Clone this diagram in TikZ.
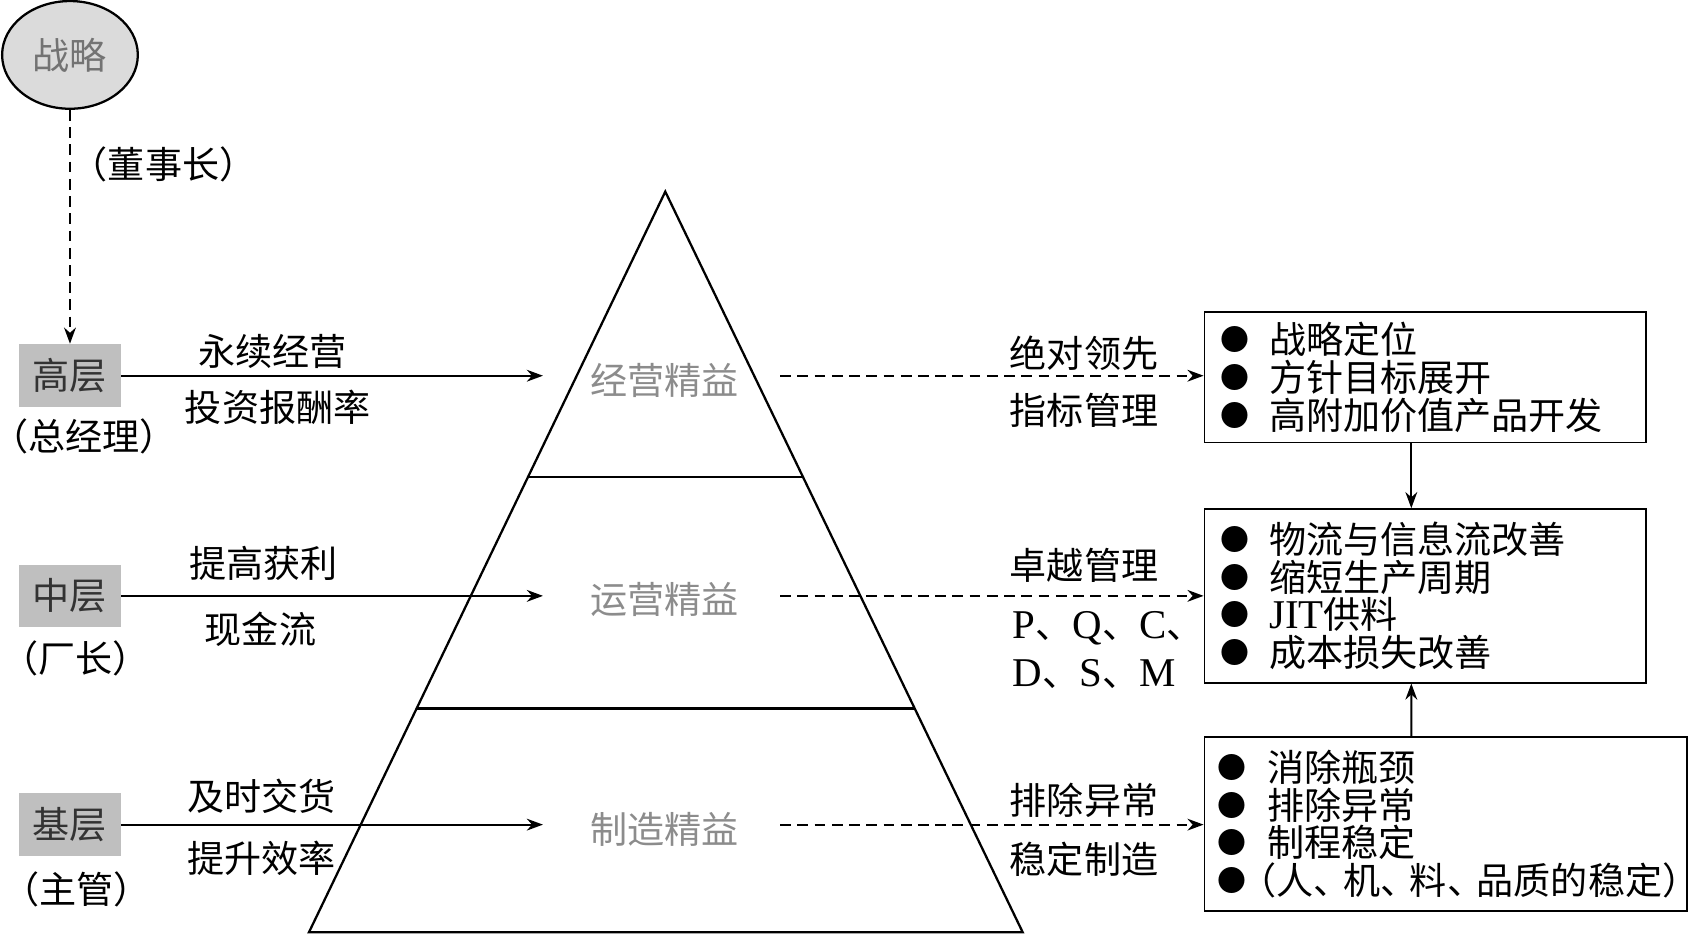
\documentclass[tikz,border=0pt]{standalone}
\usepackage{fontspec}
\setmainfont{Noto Sans CJK SC}
\newfontfamily\halfcjk[RawFeature=+halt]{Noto Sans CJK SC}
\newfontfamily\latinfont{Liberation Serif}
\usetikzlibrary{positioning,arrows.meta,calc,shapes.geometric}
\newcommand\lpa{{\halfcjk （}}
\newcommand\rpa{{\halfcjk ）}}
\newcommand\dun{\makebox[0.8em][l]{、}}
\newcommand\bul{\makebox[0.32cm][c]{\raisebox{0.08em}{\scalebox{0.78}{●}}}\hspace{0.16cm}}
\newcommand\bulw{\makebox[0.435cm][c]{\raisebox{0.08em}{\scalebox{0.78}{●}}}}
\newcommand\lat[1]{{\latinfont\fontsize{10.8}{10}\selectfont #1}}

\begin{document}
\begin{tikzpicture}[
  x=0.01cm, y=-0.01cm,
  >={Stealth[length=1.5mm,width=1.1mm]},
  every node/.style={font=\fontsize{9.8}{10}\selectfont},
  level/.style={fill=black!25, text=black!80, minimum width=0.94cm, minimum height=0.58cm, inner sep=0pt},
  who/.style={inner sep=0pt},
  part/.style={text=black!45, inner sep=0pt},
  listbox/.style={draw, line width=0.5pt, anchor=west, align=left, inner xsep=0.12cm, inner ysep=0pt, font=\fontsize{9.8}{0.35cm}\selectfont},
  arr/.style={->, line width=0.5pt},
  darr/.style={->, line width=0.5pt, dash pattern=on 1mm off 0.6mm}
]
  \useasboundingbox (0,0) rectangle (1568,869);
  % strategy and the three levels
  \node[ellipse, draw, line width=0.6pt, fill=black!14, text=black!55, minimum width=1.26cm, minimum height=1.0cm, inner sep=0pt] (zl) at (65,51) {战略};
  \node[who] at (152,153) {\lpa 董事长\rpa};
  \node[level] (gao) at (65,349) {高层};
  \node[who] at (78,405) {\lpa 总经理\rpa};
  \node[level] (zhong) at (65,553.5) {中层};
  \node[who] at (70,612) {\lpa 厂长\rpa};
  \node[level] (ji) at (65,766) {基层};
  \node[who] at (71,826) {\lpa 主管\rpa};
  \draw[darr] (zl) -- (gao);
  % pyramid
  \coordinate (top) at (618,178);
  \coordinate (bl) at (287,866);
  \coordinate (br) at (950,866);
  \draw[line width=0.6pt] (top) -- (bl) -- (br) -- cycle;
  \draw[line width=0.6pt] ($(top)!0.385!(bl)$) -- ($(top)!0.385!(br)$);
  \draw[line width=0.6pt] ($(top)!0.698!(bl)$) -- ($(top)!0.698!(br)$);
  \node[part] (jy) at (617,353) {经营精益};
  \node[part] (yy) at (617,557) {运营精益};
  \node[part] (zz) at (617,770) {制造精益};
  % left labels
  \node at (253,326) {永续经营};
  \node at (258,378) {投资报酬率};
  \node at (245,523) {提高获利};
  \node at (242,585) {现金流};
  \node at (243,740) {及时交货};
  \node at (243,797) {提升效率};
  \draw[arr, shorten >=0.43cm] (gao.east) -- (gao.east -| jy.west);
  \draw[arr, shorten >=0.43cm] (zhong.east) -- (zhong.east -| yy.west);
  \draw[arr, shorten >=0.43cm] (ji.east) -- (ji.east -| zz.west);
  % right boxes
  \node[listbox, text width=3.86cm, minimum height=1.21cm] (jybox) at (1118,350.5)
    {\bul 战略定位\\ \bul 方针目标展开\\ \bul 高附加价值产品开发};
  \node[listbox, text width=3.86cm, minimum height=1.61cm] (yybox) at (1118,553.5)
    {\bul 物流与信息流改善\\ \bul 缩短生产周期\\ \bul \lat{JIT}供料\\ \bul 成本损失改善};
  \node[listbox, inner xsep=0.035cm, text width=4.41cm, minimum height=1.61cm] (zzbox) at (1118,765.5)
    {\bulw\hspace{0.115cm}消除瓶颈\\ \bulw\hspace{0.115cm}排除异常\\ \bulw\hspace{0.115cm}制程稳定\\
     \mbox{\bulw\hspace{0.025cm}\lpa 人\dun 机\dun 料\dun 品质的稳定\rpa}};
  \draw[arr] ([xshift=-0.13cm]jybox.south) -- ([xshift=-0.13cm]yybox.north);
  \draw[arr] ([xshift=-0.32cm]zzbox.north) -- ([xshift=-0.13cm]yybox.south);
  % right labels
  \node at (1007,328) {绝对领先};
  \node at (1007,381) {指标管理};
  \node at (1007,525) {卓越管理};
  \node[anchor=west, inner sep=0pt] at (940,584) {\lat{P}、\lat{Q}、\lat{C}、};
  \node[anchor=west, inner sep=0pt] at (940,626) {\lat{D}、\lat{S}、\lat{M}};
  \node at (1007,743) {排除异常};
  \node at (1007,798) {稳定制造};
  \draw[darr, shorten <=0.38cm] (jy.east |- gao) -- (jybox.west |- gao);
  \draw[darr, shorten <=0.38cm] (yy.east |- zhong) -- (yybox.west |- zhong);
  \draw[darr, shorten <=0.38cm] (zz.east |- ji) -- (zzbox.west |- ji);
\end{tikzpicture}
\end{document}
